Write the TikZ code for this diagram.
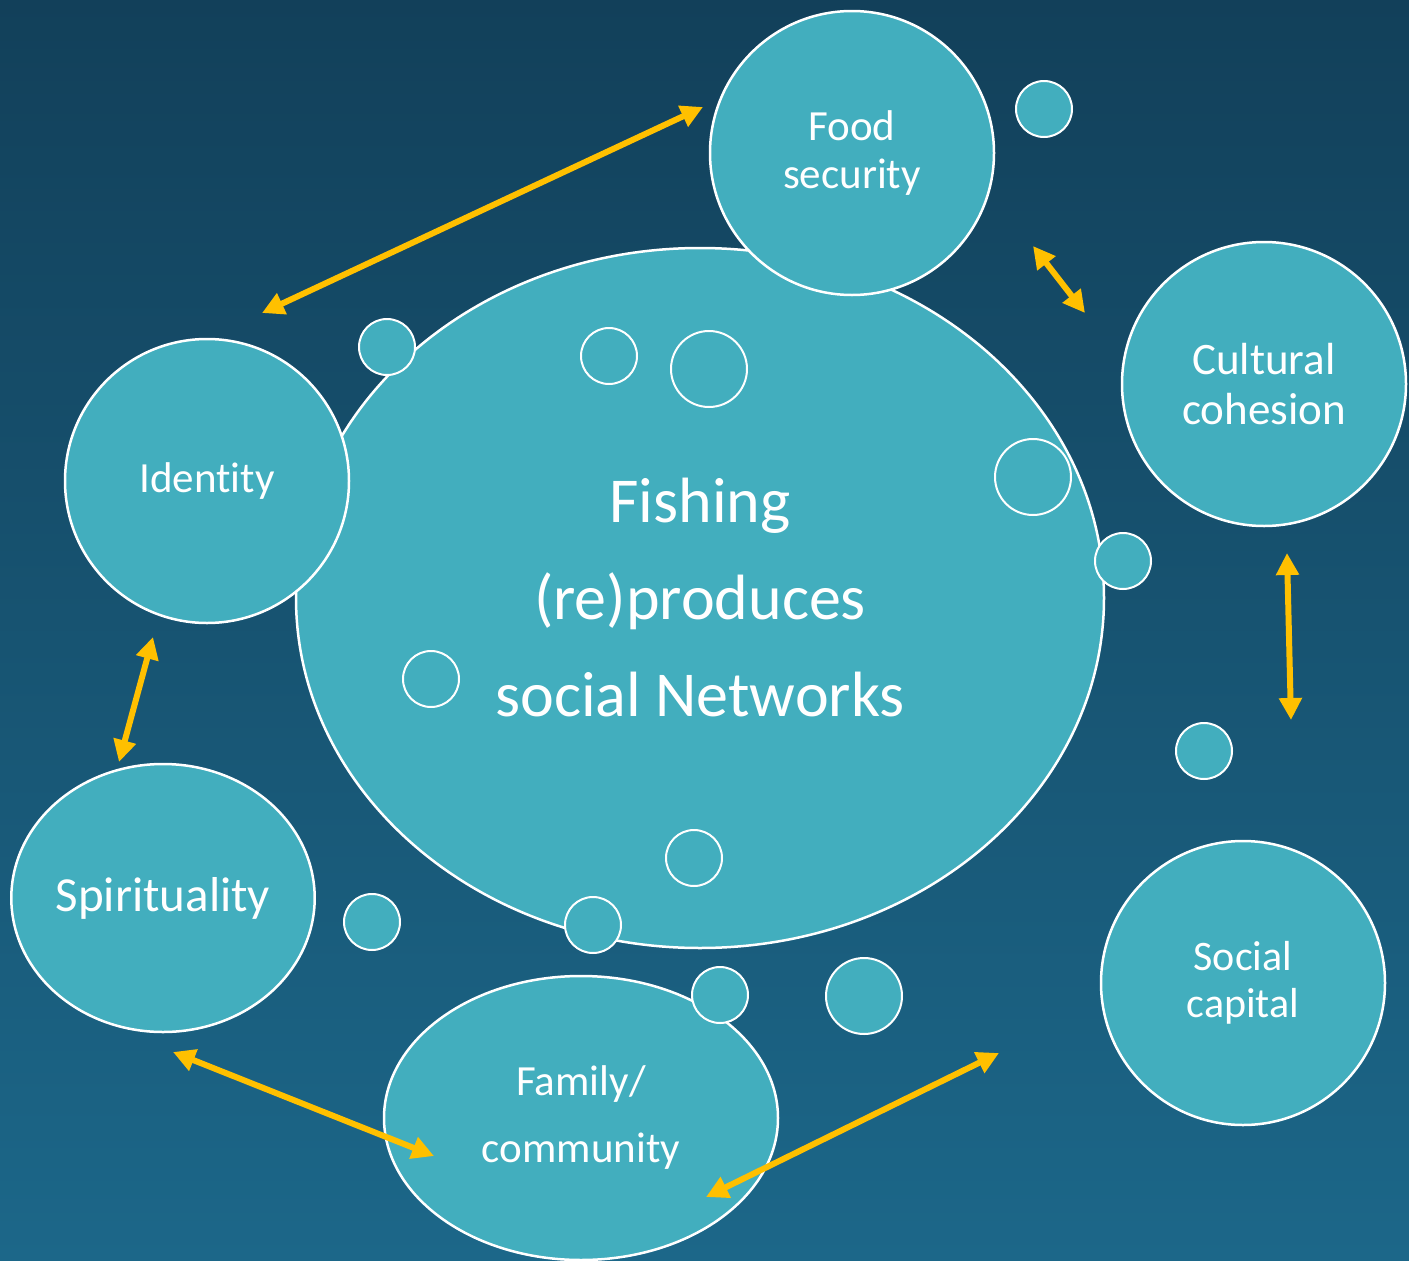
\documentclass[tikz,border=0pt]{standalone}
\usepackage{fontspec}
\setmainfont{Carlito}[Ligatures=NoCommon]
\usetikzlibrary{shapes.geometric,arrows.meta}
\definecolor{bgtop}{HTML}{12405A}
\definecolor{bgmid}{HTML}{154964}
\definecolor{bgbot}{HTML}{1C6789}
\definecolor{bubble}{HTML}{42AEBE}
\definecolor{arrowgold}{HTML}{FFC000}
\begin{document}
\begin{tikzpicture}[x=1pt,y=1pt,
  bub/.style={circle,fill=bubble,draw=white,line width=2.5pt,inner sep=0pt,minimum size=284pt,text=white,align=center},
  oval/.style={ellipse,fill=bubble,draw=white,line width=2.5pt,inner sep=0pt,text=white,align=center},
  dot/.style={circle,fill=bubble,draw=white,line width=2pt,inner sep=0pt,minimum size=#1},
  dot/.default=56pt,
  link/.style={arrowgold,line width=6pt,{Triangle[length=22pt,width=22pt]}-{Triangle[length=22pt,width=22pt]}}]
\useasboundingbox (0,0) rectangle (1409,-1261);
\shade[top color=bgtop,middle color=bgmid,bottom color=bgbot] (0,0) rectangle (1409,-1261);
% main bubble
\node[oval,minimum width=808pt,minimum height=700pt,font=\fontsize{64}{97}\selectfont] (fish) at (700,-598) {Fishing\\(re)produces\\social Networks};
% outer bubbles
\node[bub,font=\fontsize{43}{48}\selectfont] (food) at (852,-153) {Food\\security};
\node[bub,font=\fontsize{45}{50}\selectfont] (culture) at (1264,-384) {Cultural\\cohesion};
\node[bub,font=\fontsize{43}{48}\selectfont] (identity) at (207,-481) {Identity};
\node[oval,minimum width=302pt,minimum height=268pt,font=\fontsize{49}{56}\selectfont] (spirit) at (163,-898) {Spirituality};
\node[oval,minimum width=394pt,minimum height=284pt,font=\fontsize{43}{67}\selectfont] (family) at (581,-1118) {Family/\\community};
\node[bub,font=\fontsize{42}{47}\selectfont] (social) at (1243,-983) {Social\\capital};
% small bubbles
\node[dot] (d1) at (1044,-109) {};
\node[dot] (d2) at (387,-347) {};
\node[dot] (d3) at (609,-356) {};
\node[dot=76pt] (d4) at (709,-369) {};
\node[dot=76pt] (d5) at (1033,-477) {};
\node[dot] (d6) at (1123,-561) {};
\node[dot] (d7) at (431,-679) {};
\node[dot] (d8) at (1204,-751) {};
\node[dot] (d9) at (694,-858) {};
\node[dot] (d10) at (372,-922) {};
\node[dot] (d11) at (593,-925) {};
\node[dot] (d12) at (720,-995) {};
\node[dot=76pt] (d13) at (864,-996) {};
% arrow ends
\coordinate (a1) at (262,-313);
\coordinate (b1) at (703,-107);
\coordinate (a2) at (1033,-246);
\coordinate (b2) at (1085,-313);
\coordinate (a3) at (1287,-553);
\coordinate (b3) at (1291,-720);
\coordinate (a4) at (153,-637);
\coordinate (b4) at (119,-762);
\coordinate (a5) at (173,-1052);
\coordinate (b5) at (434,-1156);
\coordinate (a6) at (999,-1053);
\coordinate (b6) at (706,-1197);
\draw[link] (a1) -- (b1);
\draw[link] (a2) -- (b2);
\draw[link] (a3) -- (b3);
\draw[link] (a4) -- (b4);
\draw[link] (a5) -- (b5);
\draw[link] (a6) -- (b6);
\end{tikzpicture}
\end{document}
